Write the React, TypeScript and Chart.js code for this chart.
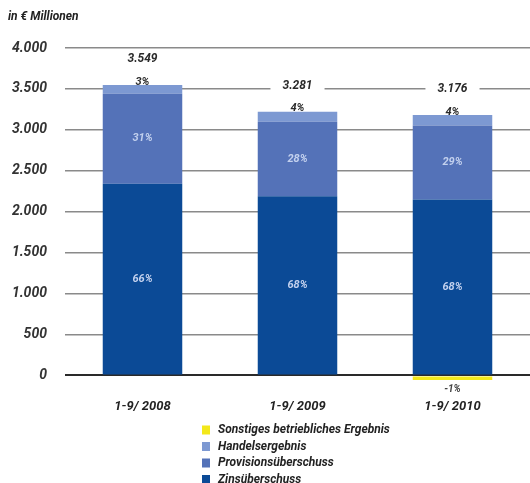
import React, { useEffect, useRef } from 'react';
import { Chart, registerables } from 'chart.js';

Chart.register(...registerables);

const categories = ['1-9/ 2008', '1-9/ 2009', '1-9/ 2010'];
const zinsValues = [2342, 2188, 2148];
const provisionValues = [1100, 912, 904];
const handelValues = [107, 122, 130];
const sonstigesValues = [0, 0, -55];
const zinsPct = ['66%', '68%', '68%'];
const provisionPct = ['31%', '28%', '29%'];
const handelPct = ['3%', '4%', '4%'];
const sonstigesPct = ['', '', '-1%'];
const totalLabels = ['3.549', '3.281', '3.176'];
const seriesNames = ['Zinsüberschuss', 'Provisionsüberschuss', 'Handelsergebnis', 'Sonstiges betriebliches Ergebnis'];
const seriesColors = ['#0b4a96', '#5472b8', '#7d99d2', '#f3e81a'];
const unitLabel = 'in € Millionen';

const FONT = 'Roboto, "DejaVu Sans", sans-serif';

const fmt = (v: number) => String(v).replace(/\B(?=(\d{3})+(?!\d))/g, '.');

const labelPlugin = {
  id: 'valueLabels',
  afterDatasetsDraw(chart: any) {
    const ctx = chart.ctx;
    ctx.save();
    ctx.textAlign = 'center';
    ctx.textBaseline = 'middle';
    const inner = [zinsPct, provisionPct];
    for (let i = 0; i < categories.length; i++) {
      inner.forEach((arr, d) => {
        const el = chart.getDatasetMeta(d).data[i];
        if (!el || !arr[i]) return;
        ctx.font = `italic bold 11px ${FONT}`;
        ctx.fillStyle = '#c3d1ee';
        ctx.fillText(arr[i], el.x, (el.y + el.base) / 2);
      });
      const hEl = chart.getDatasetMeta(2).data[i];
      if (hEl) {
        ctx.font = `italic bold 11px ${FONT}`;
        ctx.fillStyle = '#2a2a2a';
        ctx.fillText(handelPct[i], hEl.x, hEl.y - 3);
        ctx.font = `italic bold 12px ${FONT}`;
        const ty = hEl.y - 26;
        const w = ctx.measureText(totalLabels[i]).width;
        ctx.fillStyle = '#ffffff';
        ctx.fillRect(hEl.x - w / 2 - 12, ty - 6, w + 24, 12);
        ctx.fillStyle = '#2a2a2a';
        ctx.fillText(totalLabels[i], hEl.x, ty);
      }
      const sEl = chart.getDatasetMeta(3).data[i];
      if (sEl && sonstigesPct[i]) {
        ctx.font = `italic bold 10px ${FONT}`;
        ctx.fillStyle = '#444444';
        ctx.fillText(sonstigesPct[i], sEl.x, sEl.y + 10);
      }
    }
    ctx.restore();
  },
  afterDraw(chart: any) {
    const ctx = chart.ctx;
    ctx.save();
    ctx.textBaseline = 'middle';
    ctx.textAlign = 'left';
    ctx.fillStyle = '#222222';
    ctx.font = `italic bold 12px ${FONT}`;
    ctx.fillText(unitLabel, 8, 17);
    const order = [3, 2, 1, 0];
    order.forEach((d, row) => {
      const y = 430 + row * 16.5;
      ctx.fillStyle = seriesColors[d];
      ctx.fillRect(202, y - 4.5, 8, 9);
      ctx.fillStyle = '#222222';
      ctx.font = `italic bold 12px ${FONT}`;
      ctx.fillText(seriesNames[d], 218, y);
    });
    ctx.restore();
  },
};

export default function App() {
  const ref = useRef<HTMLCanvasElement | null>(null);
  useEffect(() => {
    if (!ref.current) return;
    const values = [zinsValues, provisionValues, handelValues, sonstigesValues];
    const chart = new Chart(ref.current, {
      type: 'bar',
      data: {
        labels: categories,
        datasets: values.map((v, d) => ({
          label: seriesNames[d],
          data: v,
          backgroundColor: seriesColors[d],
          borderWidth: 0,
          categoryPercentage: 1,
          barPercentage: 0.513,
          clip: false,
        })),
      },
      options: {
        animation: false,
        responsive: false,
        devicePixelRatio: 1,
        layout: { padding: { left: 0, right: 0, top: 48, bottom: 44 } },
        plugins: { legend: { display: false }, tooltip: { enabled: false }, title: { display: false } },
        scales: {
          x: {
            stacked: true,
            grid: { display: false, drawTicks: false },
            border: { display: false },
            ticks: { color: '#222222', font: { family: FONT, size: 13, style: 'italic', weight: 'bold' }, padding: 24 },
          },
          y: {
            stacked: true,
            min: 0,
            max: 4000,
            afterFit: (scale: any) => {
              scale.width = 65;
            },
            grid: {
              drawTicks: false,
              color: (c: any) => (c.tick && c.tick.value === 0 ? '#2a2a2a' : '#8a8a8a'),
              lineWidth: (c: any) => (c.tick && c.tick.value === 0 ? 2 : 1.5),
            },
            border: { display: false },
            ticks: {
              stepSize: 500,
              padding: 18,
              color: '#333333',
              font: { family: FONT, size: 14, style: 'italic', weight: 'bold' },
              callback: (v: any) => fmt(Number(v)),
            },
          },
        },
      },
      plugins: [labelPlugin],
    });
    return () => chart.destroy();
  }, []);
  return (
    <div style={{ position: 'absolute', left: 0, top: 0, width: 530, height: 483, background: '#ffffff' }}>
      <canvas ref={ref} width={530} height={483} />
    </div>
  );
}
